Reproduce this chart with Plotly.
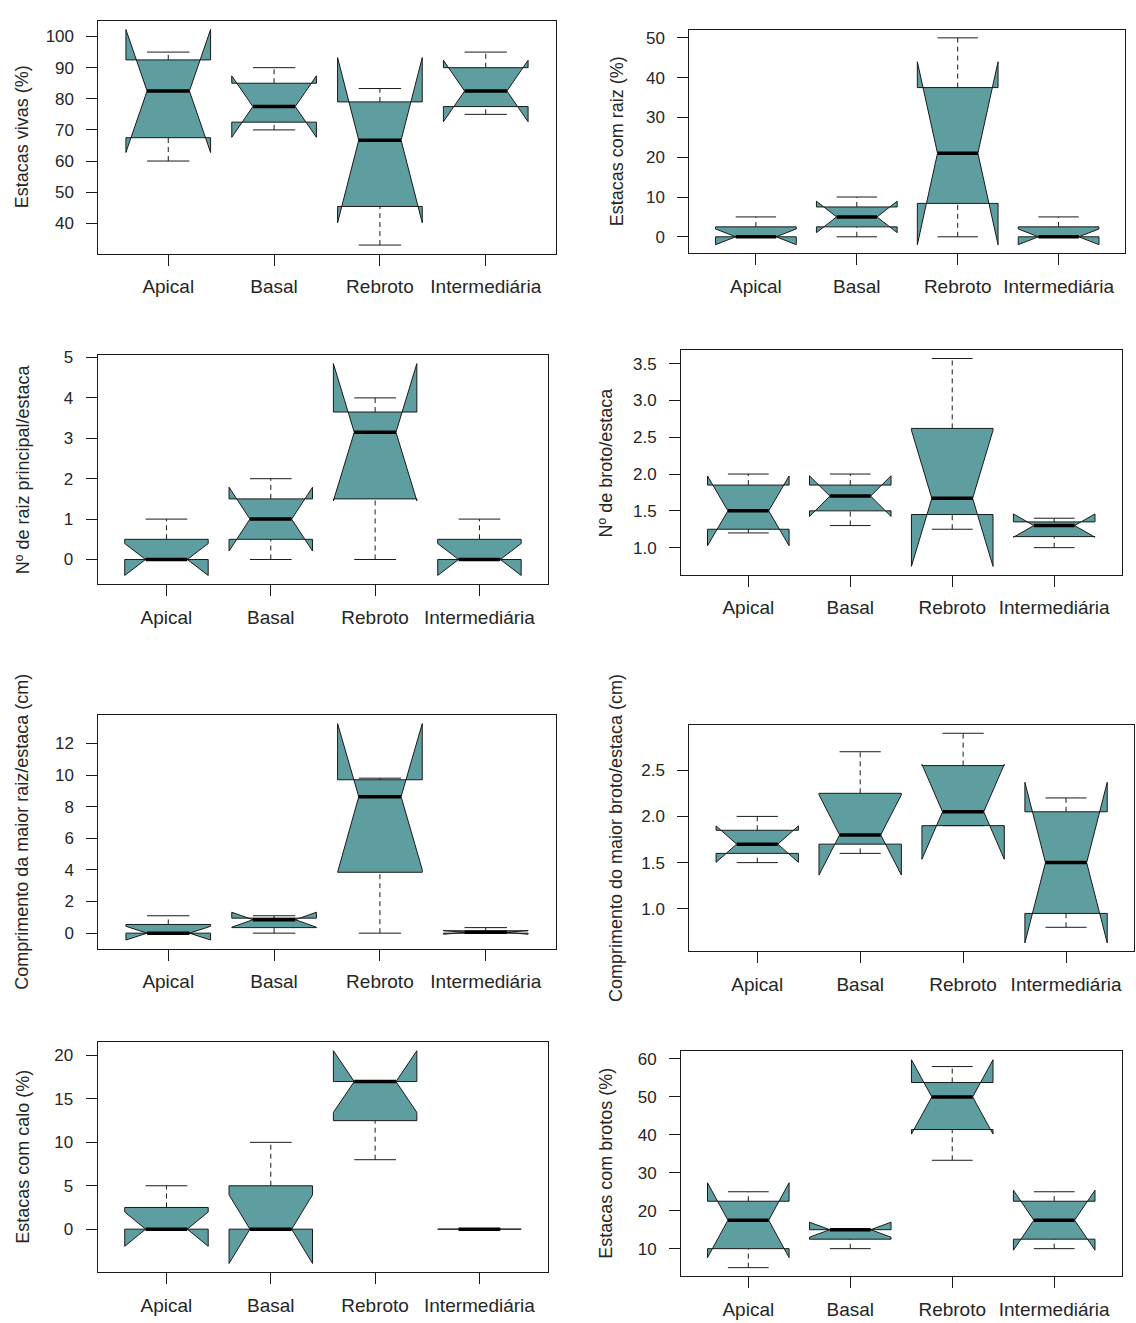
import math
import plotly.graph_objects as go

FIG_W, FIG_H = 1136, 1323

categories = ["Apical", "Basal", "Rebroto", "Intermediária"]
n_obs = 4  # observations per group (R boxplot notch: med +/- 1.58*IQR/sqrt(n))

# ---- Panel 1: Estacas vivas (%)
vivas_lw = [60, 70, 33, 75]
vivas_q1 = [67.5, 72.5, 45.4, 77.5]
vivas_med = [82.5, 77.5, 66.7, 82.5]
vivas_q3 = [92.5, 85, 79.0, 90]
vivas_uw = [95, 90, 83.3, 95]
vivas_ticks = [40, 50, 60, 70, 80, 90, 100]

# ---- Panel 2: Estacas com raiz (%)
raiz_lw = [0, 0, 0, 0]
raiz_q1 = [0, 2.5, 8.4, 0]
raiz_med = [0, 5, 21, 0]
raiz_q3 = [2.5, 7.5, 37.5, 2.5]
raiz_uw = [5, 10, 50, 5]
raiz_ticks = [0, 10, 20, 30, 40, 50]

# ---- Panel 3: Nº de raiz principal/estaca
nraiz_lw = [0, 0, 0, 0]
nraiz_q1 = [0, 0.5, 1.5, 0]
nraiz_med = [0, 1, 3.15, 0]
nraiz_q3 = [0.5, 1.5, 3.65, 0.5]
nraiz_uw = [1, 2, 4, 1]
nraiz_ticks = [0, 1, 2, 3, 4, 5]

# ---- Panel 4: Nº de broto/estaca
nbroto_lw = [1.2, 1.3, 1.25, 1.0]
nbroto_q1 = [1.25, 1.5, 1.45, 1.15]
nbroto_med = [1.5, 1.7, 1.67, 1.3]
nbroto_q3 = [1.85, 1.85, 2.62, 1.35]
nbroto_uw = [2.0, 2.0, 3.57, 1.4]
nbroto_ticks = [1.0, 1.5, 2.0, 2.5, 3.0, 3.5]
nbroto_ticktext = ["1.0", "1.5", "2.0", "2.5", "3.0", "3.5"]

# ---- Panel 5: Comprimento da maior raiz/estaca (cm)
craiz_lw = [0, 0, 0, 0]
craiz_q1 = [0, 0.35, 3.85, 0]
craiz_med = [0, 0.85, 8.63, 0.05]
craiz_q3 = [0.55, 0.95, 9.7, 0.15]
craiz_uw = [1.1, 1.1, 9.8, 0.35]
craiz_ticks = [0, 2, 4, 6, 8, 10, 12]

# ---- Panel 6: Comprimento do maior broto/estaca (cm)
cbroto_lw = [1.5, 1.6, 1.9, 0.8]
cbroto_q1 = [1.6, 1.7, 1.9, 0.95]
cbroto_med = [1.7, 1.8, 2.05, 1.5]
cbroto_q3 = [1.85, 2.25, 2.55, 2.05]
cbroto_uw = [2.0, 2.7, 2.9, 2.2]
cbroto_ticks = [1.0, 1.5, 2.0, 2.5]
cbroto_ticktext = ["1.0", "1.5", "2.0", "2.5"]

# ---- Panel 7: Estacas com calo (%)
calo_lw = [0, 0, 8, 0]
calo_q1 = [0, 0, 12.5, 0]
calo_med = [0, 0, 17, 0]
calo_q3 = [2.5, 5, 17, 0]
calo_uw = [5, 10, 17, 0]
calo_ticks = [0, 5, 10, 15, 20]

# ---- Panel 8: Estacas com brotos (%)
cbrotos_lw = [5, 10, 33.3, 10]
cbrotos_q1 = [10, 12.5, 41.4, 12.5]
cbrotos_med = [17.5, 15, 50, 17.5]
cbrotos_q3 = [22.5, 15, 53.8, 22.5]
cbrotos_uw = [25, 15, 58, 25]
cbrotos_ticks = [10, 20, 30, 40, 50, 60]

panels = [
    dict(title="Estacas vivas (%)", lw=vivas_lw, q1=vivas_q1, med=vivas_med, q3=vivas_q3, uw=vivas_uw,
         ticks=vivas_ticks, ticktext=[str(t) for t in vivas_ticks]),
    dict(title="Estacas com raiz (%)", lw=raiz_lw, q1=raiz_q1, med=raiz_med, q3=raiz_q3, uw=raiz_uw,
         ticks=raiz_ticks, ticktext=[str(t) for t in raiz_ticks]),
    dict(title="Nº de raiz principal/estaca", lw=nraiz_lw, q1=nraiz_q1, med=nraiz_med, q3=nraiz_q3, uw=nraiz_uw,
         ticks=nraiz_ticks, ticktext=[str(t) for t in nraiz_ticks]),
    dict(title="Nº de broto/estaca", lw=nbroto_lw, q1=nbroto_q1, med=nbroto_med, q3=nbroto_q3, uw=nbroto_uw,
         ticks=nbroto_ticks, ticktext=nbroto_ticktext),
    dict(title="Comprimento da maior raiz/estaca (cm)", lw=craiz_lw, q1=craiz_q1, med=craiz_med, q3=craiz_q3,
         uw=craiz_uw, ticks=craiz_ticks, ticktext=[str(t) for t in craiz_ticks]),
    dict(title="Comprimento do maior broto/estaca (cm)", lw=cbroto_lw, q1=cbroto_q1, med=cbroto_med, q3=cbroto_q3,
         uw=cbroto_uw, ticks=cbroto_ticks, ticktext=cbroto_ticktext),
    dict(title="Estacas com calo (%)", lw=calo_lw, q1=calo_q1, med=calo_med, q3=calo_q3, uw=calo_uw,
         ticks=calo_ticks, ticktext=[str(t) for t in calo_ticks]),
    dict(title="Estacas com brotos (%)", lw=cbrotos_lw, q1=cbrotos_q1, med=cbrotos_med, q3=cbrotos_q3,
         uw=cbrotos_uw, ticks=cbrotos_ticks, ticktext=[str(t) for t in cbrotos_ticks]),
]

# ---- layout (pixel frames: left, top, right, bottom) and y-title x position
frames = [
    (98.4, 14.0, 555.6, 248.0),
    (689.3, 22.7, 1125.2, 247.3),
    (97.6, 350.0, 548.3, 580.0),
    (681.0, 345.0, 1121.5, 570.7),
    (98.4, 711.7, 555.6, 946.7),
    (689.3, 721.7, 1134.0, 949.3),
    (97.6, 1040.7, 548.3, 1271.7),
    (681.0, 1050.0, 1121.5, 1275.7),
]
title_x = [22, 617, 22.6, 606, 22, 616, 22.6, 606]

FILL = "#5F9EA0"      # cadetblue
INK = "#1a1a1a"
TEXT = "#262626"
FONT = "Liberation Sans, Arial, sans-serif"
BOXWEX = 0.8
NOTCH_FRAC = 0.5
STAPLE_WEX = 0.5

fig = go.Figure()
annotations = []

for k, p in enumerate(panels):
    sfx = "" if k == 0 else str(k + 1)
    xref, yref = "x" + sfx, "y" + sfx
    wid = BOXWEX / 2
    whisk_x, whisk_y, stap_x, stap_y, med_x, med_y = [], [], [], [], [], []
    lo_all, hi_all = [], []
    for i in range(len(categories)):
        x = i + 1
        lw, q1, med, q3, uw = p["lw"][i], p["q1"][i], p["med"][i], p["q3"][i], p["uw"][i]
        d = 1.58 * (q3 - q1) / math.sqrt(n_obs)
        clo, chi = med - d, med + d
        lo_all += [lw, clo, q1]
        hi_all += [uw, chi, q3]
        xs = [x - wid, x + wid, x + wid, x + NOTCH_FRAC * wid, x + wid, x + wid,
              x - wid, x - wid, x - NOTCH_FRAC * wid, x - wid, x - wid]
        ys = [q1, q1, clo, med, chi, q3, q3, chi, med, clo, q1]
        fig.add_trace(go.Scatter(x=xs, y=ys, mode="lines", fill="toself", fillcolor=FILL,
                                 line=dict(color=INK, width=1), xaxis=xref, yaxis=yref,
                                 hoverinfo="skip", showlegend=False))
        whisk_x += [x, x, None, x, x, None]
        whisk_y += [lw, q1, None, q3, uw, None]
        sw = STAPLE_WEX * wid
        stap_x += [x - sw, x + sw, None, x - sw, x + sw, None]
        stap_y += [lw, lw, None, uw, uw, None]
        mw = NOTCH_FRAC * wid
        med_x += [x - mw, x + mw, None]
        med_y += [med, med, None]

    fig.add_trace(go.Scatter(x=whisk_x, y=whisk_y, mode="lines", line=dict(color=INK, width=1, dash="5px,4px"),
                             xaxis=xref, yaxis=yref, hoverinfo="skip", showlegend=False))
    fig.add_trace(go.Scatter(x=stap_x, y=stap_y, mode="lines", line=dict(color=INK, width=1),
                             xaxis=xref, yaxis=yref, hoverinfo="skip", showlegend=False))
    fig.add_trace(go.Scatter(x=med_x, y=med_y, mode="lines", line=dict(color="#000000", width=3.5),
                             xaxis=xref, yaxis=yref, hoverinfo="skip", showlegend=False))

    lo, hi = min(lo_all), max(hi_all)
    ext = 0.04 * (hi - lo)
    n = len(categories)
    xext = 0.04 * n
    l, t, r, b = frames[k]
    fig.layout["xaxis" + sfx] = dict(
        domain=[l / FIG_W, r / FIG_W], anchor=yref, range=[0.5 - xext, n + 0.5 + xext],
        tickvals=list(range(1, n + 1)), ticktext=categories, ticks="outside", ticklen=11,
        tickcolor=INK, tickwidth=1, showline=True, mirror=True, linecolor=INK, linewidth=1,
        showgrid=False, zeroline=False, fixedrange=True,
        tickfont=dict(family=FONT, size=19, color=TEXT), ticklabelstandoff=5)
    fig.layout["yaxis" + sfx] = dict(
        domain=[1 - b / FIG_H, 1 - t / FIG_H], anchor=xref, range=[lo - ext, hi + ext],
        tickvals=p["ticks"], ticktext=p["ticktext"], ticks="outside", ticklen=11,
        tickcolor=INK, tickwidth=1, showline=True, mirror=True, linecolor=INK, linewidth=1,
        showgrid=False, zeroline=False, fixedrange=True,
        tickfont=dict(family=FONT, size=17, color=TEXT), ticklabelstandoff=9)
    annotations.append(dict(text=p["title"], xref="paper", yref="paper",
                            x=title_x[k] / FIG_W, y=1 - ((t + b) / 2) / FIG_H,
                            xanchor="center", yanchor="middle", textangle=-90, showarrow=False,
                            font=dict(family=FONT, size=18, color=TEXT)))

fig.update_layout(width=FIG_W, height=FIG_H, margin=dict(l=0, r=0, t=0, b=0),
                  paper_bgcolor="white", plot_bgcolor="white", showlegend=False,
                  annotations=annotations)

fig.write_html("out.html", include_plotlyjs=True, config={"displayModeBar": False},
               post_script="document.body.style.margin='0';document.body.style.overflow='hidden';")
